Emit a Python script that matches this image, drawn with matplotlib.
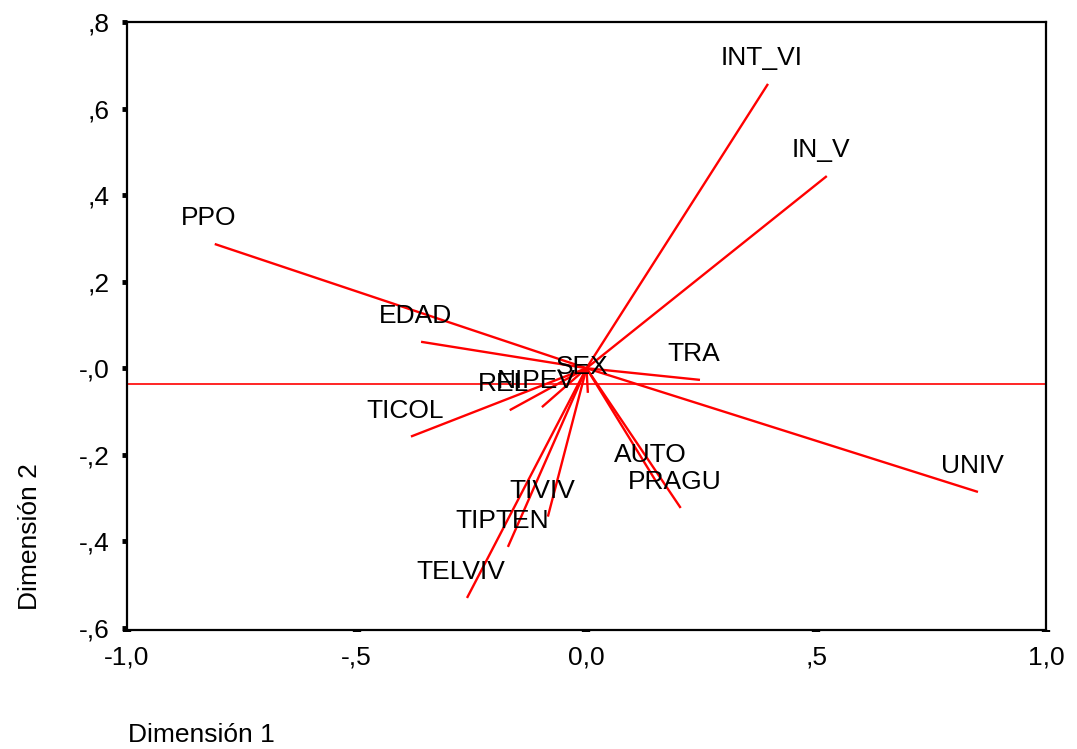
import matplotlib
matplotlib.use("Agg")
import matplotlib.pyplot as plt

plt.rcParams.update({
    "font.family": ["Liberation Sans", "DejaVu Sans"],
    "font.size": 19,
})

# vector endpoints (Dimensión 1, Dimensión 2)
labels = ["INT_VI", "IN_V", "PPO", "EDAD", "TRA", "UNIV", "TICOL", "SEX",
          "REL", "NIPEV", "AUTO", "PRAGU", "TIVIV", "TIPTEN", "TELVIV"]
dim1 = [0.395, 0.523, -0.809, -0.360, 0.247, 0.852, -0.382, 0.003,
        -0.167, -0.097, 0.151, 0.205, -0.084, -0.171, -0.260]
dim2 = [0.657, 0.444, 0.287, 0.061, -0.027, -0.286, -0.158, -0.057,
        -0.097, -0.090, -0.261, -0.323, -0.343, -0.413, -0.531]
ref_y = -0.036

xticks = [-1.0, -0.5, 0.0, 0.5, 1.0]
xticklabels = ["-1,0", "-,5", "0,0", ",5", "1,0"]
yticks = [0.8, 0.6, 0.4, 0.2, 0.0, -0.2, -0.4, -0.6]
yticklabels = [",8", ",6", ",4", ",2", "-,0", "-,2", "-,4", "-,6"]

fig = plt.figure(figsize=(10.77, 7.49), dpi=100)
ax = fig.add_axes([0.1179, 0.1589, 0.8533, 0.8117])

ax.axhline(ref_y, color="red", linewidth=1.2)
for lab, x, y in zip(labels, dim1, dim2):
    ax.plot([0, x], [0, y], color="red", linewidth=1.7,
            solid_capstyle="butt")
    ax.text(x - 0.013, y + 0.06, lab, ha="center", va="center",
            fontsize=19)

ax.set_xlim(-1.0, 1.0)
ax.set_ylim(-0.605, 0.8)
ax.set_xticks(xticks)
ax.set_xticklabels(xticklabels)
ax.set_yticks(yticks)
ax.set_yticklabels(yticklabels)
ax.tick_params(axis="both", labelsize=19)
ax.tick_params(axis="y", direction="out", length=3.5, width=3.5, pad=9)
ax.tick_params(axis="x", direction="out", length=1.5, width=6, pad=10)
for s in ax.spines.values():
    s.set_linewidth(1.6)

fig.text(128 / 1077, 1 - 735 / 749, "Dimensión 1", ha="left",
         va="center", fontsize=19)
fig.text(30 / 1077, 1 - 537 / 749, "Dimensión 2", ha="center",
         va="center", rotation=90, fontsize=19)

fig.savefig("out.png", dpi=100)
